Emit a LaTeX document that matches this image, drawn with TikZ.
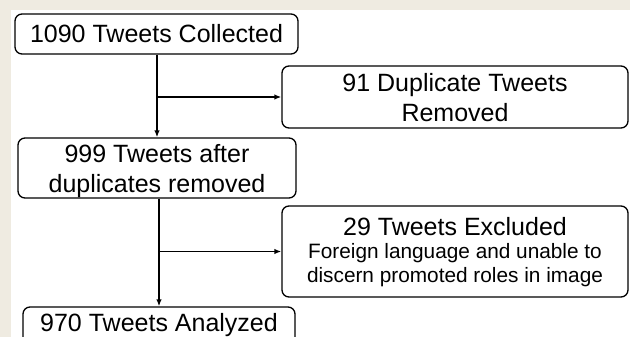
\documentclass[tikz,border=0pt]{standalone}
\usepackage{fontspec}
\setmainfont{Liberation Sans}
\usetikzlibrary{arrows.meta}
\definecolor{beige}{RGB}{239,235,225}
\tikzset{
  x=1pt, y=-1pt,
  flowbox/.style={draw=black, line width=1.3pt, rounded corners=7pt, fill=white,
    inner sep=0pt, align=center, font=\fontsize{25}{30}\selectfont},
  arr/.style={line width=1.6pt, -{Latex[length=7pt,width=5.5pt]}}
}
\newcommand{\smalltxt}{\fontsize{20.8}{23.5}\selectfont}
\begin{document}
\begin{tikzpicture}
\useasboundingbox (0,0) rectangle (630,337);
\fill[beige] (0,0) rectangle (630,337);
\fill[white] (11,10) rectangle (630,337);
\begin{scope}
\clip (0,0) rectangle (630,337);
\node[flowbox, minimum width=283pt, minimum height=40pt] (b1) at (156.5,34) {1090 Tweets Collected};
\node[flowbox, minimum width=346pt, minimum height=62pt] (b3) at (455,97) {\rule{0pt}{20pt}91 Duplicate Tweets\\Removed};
\node[flowbox, minimum width=278pt, minimum height=60pt] (b2) at (157,168) {\rule{0pt}{23.2pt}999 Tweets after\\duplicates removed};
\node[flowbox, minimum width=346pt, minimum height=91pt, font=\fontsize{25}{23.5}\selectfont] (b4) at (455,251.5) {\rule{0pt}{19pt}29 Tweets Excluded\\{\smalltxt Foreign language and unable to}\\{\smalltxt discern promoted roles in image}};
\node[flowbox, minimum width=272pt, minimum height=37pt] (b5) at (159,325.5) {970 Tweets Analyzed};
\coordinate (j1) at (157,97);
\coordinate (j2) at (159,251.5);
\draw[arr] (b1.south -| j1) -- (b2.north -| j1);
\draw[arr] (j1) -- (b3.west);
\draw[arr] (b2.south -| j2) -- (b5.north -| j2);
\draw[arr] (j2) -- (b4.west);
\end{scope}
\end{tikzpicture}
\end{document}
